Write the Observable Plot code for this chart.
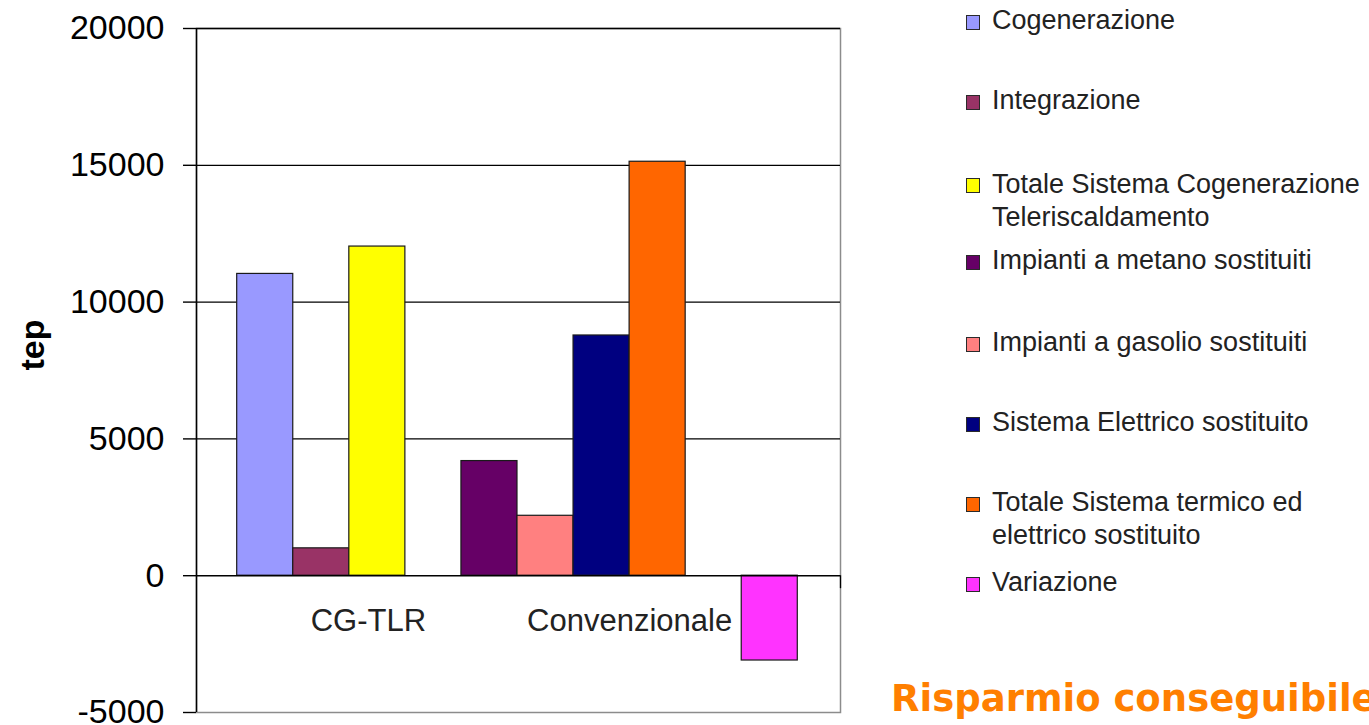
<!DOCTYPE html>
<html>
<head>
<meta charset="utf-8">
<script src="https://cdn.jsdelivr.net/npm/d3@7"></script>
<script src="https://cdn.jsdelivr.net/npm/@observablehq/plot@0.6"></script>
<style>
  html, body { margin: 0; padding: 0; background: #fff; overflow: hidden; }
  #chart { position: relative; width: 1369px; height: 725px; font-family: "Liberation Sans", Arial, sans-serif; }
  #chart svg { position: absolute; left: 0; top: 0; }
  .legend-item { position: absolute; left: 966px; font-size: 27px; line-height: 33px; color: #222; white-space: nowrap; }
  .legend-item .swatch { position: absolute; left: 0; top: 10.8px; width: 12px; height: 13px; border: 1.5px solid #2a2a2a; }
  .legend-item .label { margin-left: 26px; }
  .note { position: absolute; left: 891px; top: 680px; font-family: "DejaVu Sans", Verdana, sans-serif; font-weight: bold; font-size: 37px; line-height: 37px; color: #ff7f00; white-space: nowrap; }
</style>
</head>
<body>
<div id="chart"></div>
<script>
// Energy balance, in tep: cogeneration + district heating vs. the conventional systems it replaces
const categories = ["CG-TLR", "Convenzionale"];
const seriesNames = [
  "Cogenerazione",
  "Integrazione",
  "Totale Sistema Cogenerazione Teleriscaldamento",
  "Impianti a metano sostituiti",
  "Impianti a gasolio sostituiti",
  "Sistema Elettrico sostituito",
  "Totale Sistema termico ed elettrico sostituito",
  "Variazione"
];
const seriesGroup = [0, 0, 0, 1, 1, 1, 1, 2];
const seriesValues = [11030, 1000, 12030, 4190, 2190, 8780, 15130, -3100];
const seriesColors = ["#9999ff", "#993366", "#ffff00", "#660066", "#ff8080", "#000080", "#ff6600", "#ff33ff"];
const yTicks = [-5000, 0, 5000, 10000, 15000, 20000];
const noteText = "Risparmio conseguibile";

// Layout: one bar per slot, with an empty slot between groups
const xMin = -0.726, xMax = 10.762;
const categoryLabelSlot = [2.34, 7.0];
const legendTop = [4.2, 84.2, 167.5, 244.2, 325.9, 405.9, 485.9, 565.9];
const legendFirstLineWords = {
  "Totale Sistema Cogenerazione Teleriscaldamento": 3,
  "Totale Sistema termico ed elettrico sostituito": 4
};

const bars = seriesNames.map((name, i) => {
  const slot = i + seriesGroup[i];
  return {name, value: seriesValues[i], x1: slot, x2: slot + 1};
});
const labels = categories.map((label, i) => ({label, x: categoryLabelSlot[i]}));

const chart = Plot.plot({
  width: 1369,
  height: 725,
  marginLeft: 196,
  marginRight: 529,
  marginTop: 28,
  marginBottom: 13,
  style: {fontFamily: "'Liberation Sans', Arial, sans-serif", background: "#fff", color: "#000", overflow: "visible"},
  x: {type: "linear", domain: [xMin, xMax], axis: null},
  y: {domain: [-5000, 20000]},
  color: {domain: seriesNames, range: seriesColors},
  marks: [
    Plot.frame({stroke: "#8c8c8c", strokeWidth: 1.5}),
    Plot.ruleY(yTicks.filter(d => d > 0), {stroke: "#000", strokeWidth: 1.3}),
    Plot.rectY(bars, {x1: "x1", x2: "x2", y1: 0, y2: "value", fill: "name", stroke: "#1a1a1a", strokeWidth: 1.2}),
    Plot.ruleY([0], {stroke: "#000", strokeWidth: 1.4}),
    Plot.ruleX([xMin], {stroke: "#000", strokeWidth: 1.5}),
    Plot.ruleX([xMax], {y1: 0, y2: 0, insetBottom: -13, stroke: "#000", strokeWidth: 1.3}),
    Plot.axisY(yTicks, {label: null, tickSize: 13, tickPadding: 19, fontSize: 34, tickFormat: d => String(d), strokeWidth: 1.4}),
    Plot.text(["tep"], {frameAnchor: "left", dx: -163, rotate: -90, fontSize: 34, fontWeight: "bold"}),
    Plot.text(labels, {x: "x", y: () => 0, dy: 45, text: "label", fontSize: 31, fill: "#222"})
  ]
});

const root = document.getElementById("chart");
root.appendChild(chart);

// Legend to the right of the plot
seriesNames.forEach((name, i) => {
  const item = document.createElement("div");
  item.className = "legend-item";
  item.style.top = legendTop[i] + "px";
  const sw = document.createElement("span");
  sw.className = "swatch";
  sw.style.background = chart.scale("color").apply(name);
  item.appendChild(sw);
  const lab = document.createElement("div");
  lab.className = "label";
  const n = legendFirstLineWords[name];
  if (n) {
    const words = name.split(" ");
    lab.innerHTML = words.slice(0, n).join(" ") + "<br>" + words.slice(n).join(" ");
  } else {
    lab.textContent = name;
  }
  item.appendChild(lab);
  root.appendChild(item);
});

const note = document.createElement("div");
note.className = "note";
note.textContent = noteText;
root.appendChild(note);
</script>
</body>
</html>
